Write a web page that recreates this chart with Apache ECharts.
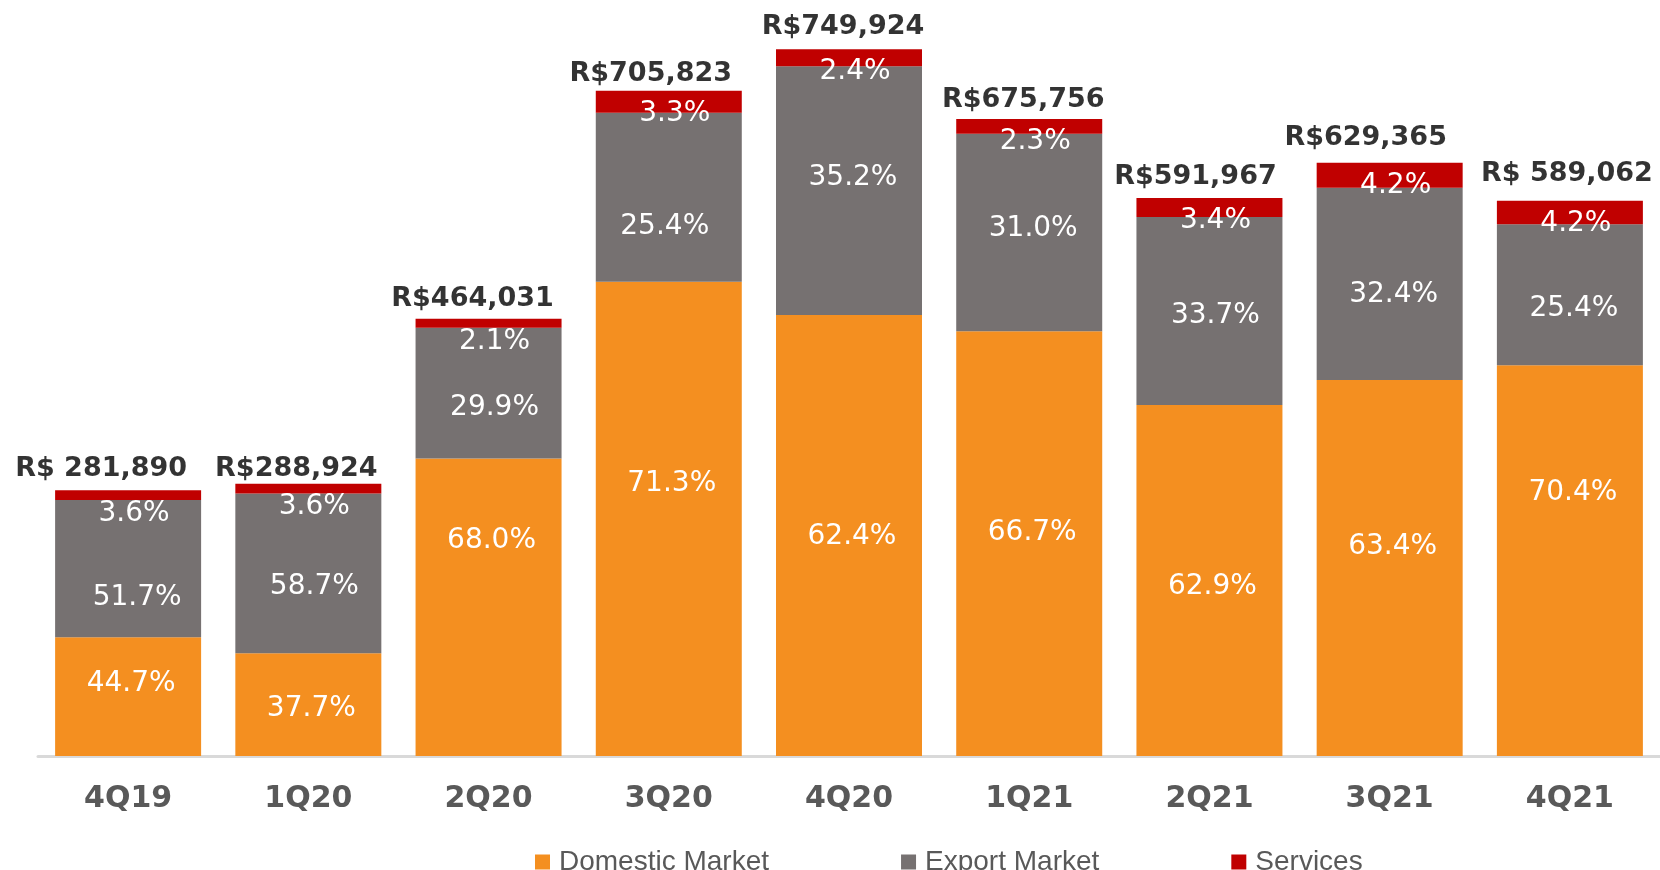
<!DOCTYPE html>
<html>
<head>
<meta charset="utf-8">
<script src="https://cdn.jsdelivr.net/npm/echarts@6/dist/echarts.min.js"></script>
<style>
html,body{margin:0;padding:0;background:#fff;}
#chart{width:1660px;height:870px;}
</style>
</head>
<body>
<div id="chart"></div>
<script>
// ---- data ----
const categories = ['4Q19','1Q20','2Q20','3Q20','4Q20','1Q21','2Q21','3Q21','4Q21'];
const totals = [281890, 288924, 464031, 705823, 749924, 675756, 591967, 629365, 589062];
const totalLabels = ['R$ 281,890','R$288,924','R$464,031','R$705,823','R$749,924','R$675,756','R$591,967','R$629,365','R$ 589,062'];
const domesticPct = [44.7, 37.7, 68.0, 71.3, 62.4, 66.7, 62.9, 63.4, 70.4];
const exportPct = [51.7, 58.7, 29.9, 25.4, 35.2, 31.0, 33.7, 32.4, 25.4];
const servicesPct = [3.6, 3.6, 2.1, 3.3, 2.4, 2.3, 3.4, 4.2, 4.2];
const seriesNames = ['Domestic Market','Export Market','Services'];

// ---- label placement nudges (layout only, px) ----
const totalNudgeX = [-27, -12, -16, -18, -6, -6, -14, -24, -3];
const totalLift = [21, 15, 20, 17, 22, 19, 21, 25, 27];
const domesticNudgeY = [-13, 4, -67, -35, 1, -11, 6, -21, -68];
const exportNudgeY = [29, 13, 14, 30, -13, -4, 5, 11, 14];
const exportNudgeX = [9, 6, 6, -4, 4, 4, 6, 4, 4];

const COLORS = ['#F48F20', '#767171', '#C00000'];
const pctFont = {color:'#fff', fontFamily:'DejaVu Sans', fontSize:28, fontWeight:'normal'};

function seg(pcts, nudgeY, nudgeX) {
  return pcts.map((p, i) => ({
    value: totals[i] * p / 100,
    pct: p,
    label: nudgeY ? {offset: [nudgeX ? nudgeX[i] : 3, nudgeY[i]]} : undefined
  }));
}
const pctFmt = (prm) => prm.data.pct.toFixed(1) + '%';

const chart = echarts.init(document.getElementById('chart'), null, {renderer:'canvas'});
chart.setOption({
  animation: false,
  backgroundColor: '#fff',
  grid: {left: 38, width: 1622, top: 2, bottom: 114, containLabel: false},
  xAxis: {
    type: 'category',
    data: categories,
    axisLine: {show: true, lineStyle: {color: '#d9d9d9', width: 3}},
    axisTick: {show: false},
    axisLabel: {color: '#595959', fontFamily: 'DejaVu Sans', fontWeight: 'bold', fontSize: 30, margin: 28}
  },
  yAxis: {
    type: 'value', min: 0, max: 800000,
    show: false,
    splitLine: {show: false}
  },
  legend: {
    data: seriesNames,
    left: 530, top: 843,
    itemWidth: 15, itemHeight: 15, itemGap: 132,
    icon: 'rect',
    textStyle: {color: '#595959', fontFamily: 'Liberation Sans', fontSize: 28, padding: [0,0,0,4]}
  },
  series: [
    {
      name: seriesNames[0], type: 'bar', stack: 'q', barWidth: 146,
      itemStyle: {color: COLORS[0]},
      label: Object.assign({show: true, position: 'inside', formatter: pctFmt}, pctFont),
      data: seg(domesticPct, domesticNudgeY, null)
    },
    {
      name: seriesNames[1], type: 'bar', stack: 'q', barWidth: 146,
      itemStyle: {color: COLORS[1]},
      label: Object.assign({show: true, position: 'inside', formatter: pctFmt}, pctFont),
      data: seg(exportPct, exportNudgeY, exportNudgeX)
    },
    {
      name: seriesNames[2], type: 'bar', stack: 'q', barWidth: 146,
      itemStyle: {color: COLORS[2]},
      label: Object.assign({show: true, position: 'insideTop', distance: 9, offset: [6, 0], formatter: pctFmt}, pctFont),
      data: seg(servicesPct, null, null)
    },
    {
      name: 'Total', type: 'scatter', symbolSize: 0, silent: true,
      itemStyle: {color: 'rgba(0,0,0,0)'},
      label: {show: true, position: 'inside', color: '#000', fontFamily: 'DejaVu Sans', fontWeight: 'bold', fontSize: 27,
              formatter: (prm) => totalLabels[prm.dataIndex]},
      data: totals.map((v, i) => ({value: v, label: {offset: [totalNudgeX[i], -totalLift[i]]}}))
    }
  ]
});
</script>
</body>
</html>
